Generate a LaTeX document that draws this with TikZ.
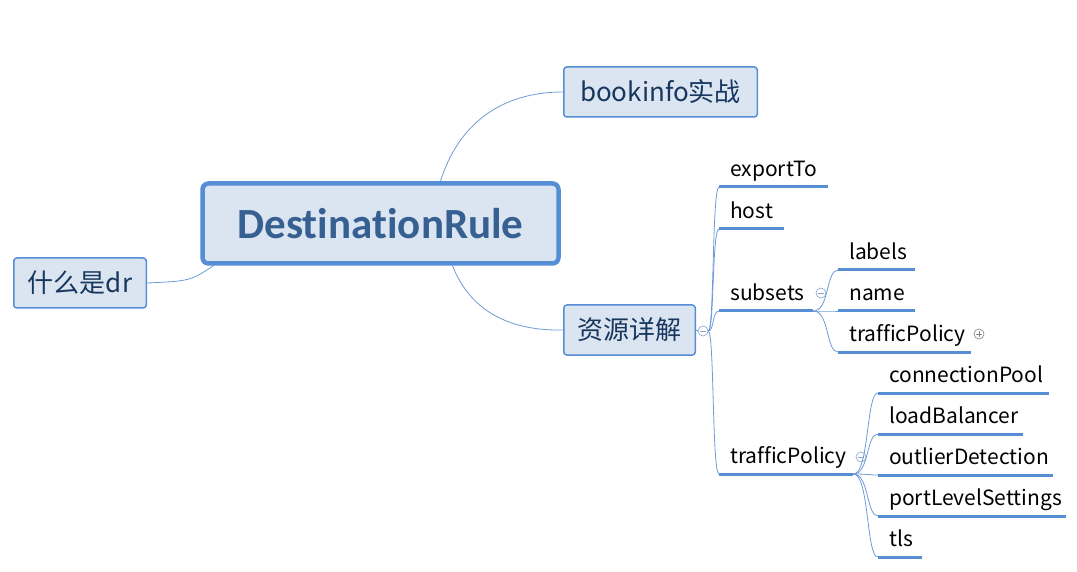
\documentclass[tikz,border=0pt]{standalone}
\usepackage{fontspec}
\setmainfont[Ligatures=NoCommon]{Noto Sans CJK SC}
\newfontfamily\calibri[Ligatures=NoCommon]{Carlito}
\usetikzlibrary{backgrounds}
\definecolor{boxfill}{RGB}{219,229,241}
\definecolor{boxline}{RGB}{85,142,213}
\definecolor{linkblue}{RGB}{110,155,216}
\definecolor{boxtext}{RGB}{23,55,94}
\definecolor{ctrtext}{RGB}{55,96,146}
\definecolor{foldgray}{RGB}{130,160,200}
\begin{document}
\begin{tikzpicture}[x=1pt, y=-1pt, line join=round, line cap=round,
	topic/.style={draw=boxline, fill=boxfill, line width=1.5pt, rounded corners=3pt, text=boxtext, font=\fontsize{26}{30}\selectfont, minimum height=50pt, inner sep=0pt},
	leaf/.style={anchor=south west, inner xsep=11pt, inner ysep=0pt, text height=15pt, text depth=10pt, align=left, font=\fontsize{21}{25}\selectfont},
	uline/.style={draw=boxline, line width=3pt, line cap=butt},
	link/.style={draw=linkblue, line width=0.8pt},
	fold/.style={circle, draw=foldgray, fill=white, line width=0.6pt, minimum size=10pt, inner sep=0pt,
		path picture={\draw[foldgray, line width=0.6pt] ([xshift=-2.5pt]path picture bounding box.center) -- ([xshift=2.5pt]path picture bounding box.center);}}]
	\useasboundingbox (0,0) rectangle (1077,572);
	% topics
	\node[topic, line width=4.5pt, rounded corners=6pt, minimum width=356pt, minimum height=80pt, text=ctrtext, font=\calibri\bfseries\fontsize{43}{50}\selectfont] (ctr) at (380.5,223.5) {DestinationRule};
	\node[topic, minimum width=132.5pt] (dr) at (80,283) {什么是dr};
	\node[topic, minimum width=193.5pt] (book) at (660.5,92) {bookinfo实战};
	\node[topic, minimum width=131.5pt] (res) at (629.5,330) {资源详解};
	\begin{scope}[on background layer]
		\draw[link] ([xshift=-167pt]ctr.south) .. controls (190,281) .. (dr.east);
		\draw[link] ([xshift=60pt]ctr.north) .. controls (458,125) and (500,92) .. (book.west);
		\draw[link] ([xshift=72pt]ctr.south) .. controls (472,315) and (515,331) .. (res.west);
	\end{scope}
	% fold buttons
	\node[fold] (f1) at (703,331) {};
	\node[fold] (f2) at (821,293) {};
	\node[fold] (f3) at (861,457) {};
	\node[fold, draw=gray, path picture={\draw[gray, line width=0.6pt] ([xshift=-2.5pt]path picture bounding box.center) -- ([xshift=2.5pt]path picture bounding box.center) ([yshift=-2.5pt]path picture bounding box.center) -- ([yshift=2.5pt]path picture bounding box.center);}] (p1) at (979,334) {};
	\draw[link] (res.east) -- (f1.west);
	% leaves
	\foreach \nm/\txt/\x/\y/\w in {exp/exportTo/719/187/87, host/host/719/229/43, sub/subsets/719/311/72, tp/trafficPolicy/719/474/112,
		lab/labels/838/270/55, nam/name/838/311/55, stp/trafficPolicy/838/352/111,
		pool/connectionPool/878/393/149, lb/loadBalancer/878/434/123, od/outlierDetection/878/475/153, pls/portLevelSettings/878/516/166, tls/tls/878/557/22}{
		\node[leaf, text width=\w pt] (\nm) at (\x,\y) {\txt};
		\draw[uline] (\nm.south west) -- (\nm.south east);
	}
	\foreach \nm in {exp,host,sub,tp}
		\draw[link] (f1.east) .. controls +(6,0) and +(-7,0) .. (\nm.south west);
	\foreach \nm in {lab,nam,stp}
		\draw[link] (sub.south east) .. controls +(16,0) and +(-12,0) .. (\nm.south west);
	\foreach \nm in {pool,lb,od,pls,tls}
		\draw[link] (tp.south east) .. controls +(16,0) and +(-12,0) .. (\nm.south west);
\end{tikzpicture}
\end{document}
